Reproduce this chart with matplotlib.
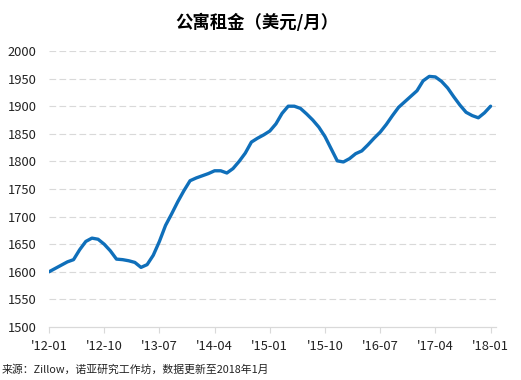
import matplotlib
matplotlib.use('Agg')
import matplotlib.pyplot as plt

plt.rcParams['font.family'] = ['Noto Sans CJK SC', 'DejaVu Sans']

# monthly rent, 2012-01 .. 2018-01
months = list(range(73))
rent = [1600, 1606, 1612, 1618, 1622, 1640, 1655, 1661, 1659, 1650,
        1638, 1623, 1622, 1620, 1617, 1608, 1613, 1630, 1655, 1684,
        1705, 1727, 1747, 1765, 1770, 1774, 1778, 1783, 1783, 1779,
        1787, 1800, 1815, 1835, 1842, 1848, 1855, 1868, 1887, 1900,
        1900, 1896, 1886, 1875, 1862, 1845, 1823, 1801, 1799, 1805,
        1814, 1819, 1830, 1842, 1853, 1867, 1883, 1898, 1908, 1918,
        1928, 1946, 1954, 1953, 1945, 1933, 1917, 1902, 1889, 1883,
        1879, 1888, 1900]
tick_pos = [0, 9, 18, 27, 36, 45, 54, 63, 72]
tick_labels = ["'12-01", "'12-10", "'13-07", "'14-04", "'15-01",
               "'15-10", "'16-07", "'17-04", "'18-01"]
yticks = list(range(1500, 2001, 50))

fig = plt.figure(figsize=(5.21, 3.80), dpi=100)
ax = fig.add_axes([49/521, 1-327/380, (495.5-49)/521, 276/380])

ax.plot(months, rent, color='#0f6fba', lw=2.4, solid_capstyle='round', zorder=3)

ax.set_ylim(1500, 2000)
ax.set_xlim(0, 72.8)
ax.set_yticks(yticks)
ax.set_xticks(tick_pos)
ax.set_xticklabels(tick_labels)
for y in yticks[1:]:
    ax.axhline(y, color='#d9d9d9', lw=0.8, ls=(0, (6, 3)), zorder=1)

for s in ['top', 'right', 'left']:
    ax.spines[s].set_visible(False)
ax.spines['bottom'].set_color('#d9d9d9')
ax.spines['bottom'].set_linewidth(0.9)
ax.tick_params(axis='y', length=0, pad=9, labelsize=9.3, labelcolor='#222222')
ax.tick_params(axis='x', length=4, color='#d9d9d9', pad=5, labelsize=9.3,
               labelcolor='#222222')

fig.text(0.494, 0.94, '公寓租金（美元/月）', ha='center', va='center',
         fontsize=12.5, fontweight='bold')
fig.text(0.004, 0.027, '来源：Zillow，诺亚研究工作坊，数据更新至2018年1月',
         ha='left', va='center', fontsize=7.8, color='#222222')

fig.savefig('out.png', dpi=100)
